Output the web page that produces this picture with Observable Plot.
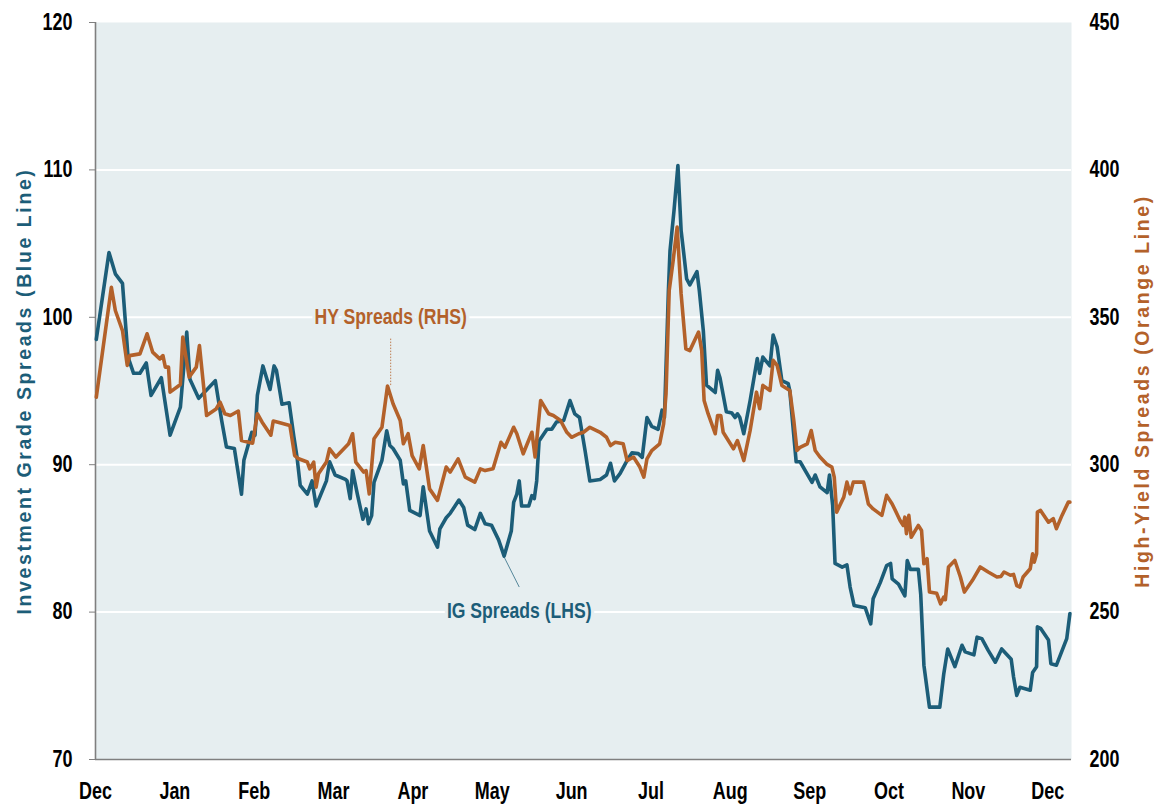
<!DOCTYPE html>
<html>
<head>
<meta charset="utf-8">
<script src="https://cdn.jsdelivr.net/npm/d3@7"></script>
<script src="https://cdn.jsdelivr.net/npm/@observablehq/plot@0.6"></script>
<style>
  html, body { margin: 0; padding: 0; background: #ffffff; }
  #chart { width: 1154px; height: 804px; }
</style>
</head>
<body>
<div id="chart"></div>
<script>
// ---- Data ----
// x positions are in months since the start of the first December
const monthLabels = ["Dec","Jan","Feb","Mar","Apr","May","Jun","Jul","Aug","Sep","Oct","Nov","Dec"];
const monthTicks = [0,1,2,3,4,5,6,7,8,9,10,11,12];
const igTicks = [70,80,90,100,110,120];
const gridTicks = [80,90,100,110];

const igMonth = [0.01,0.17,0.25,0.34,0.41,0.48,0.56,0.64,0.70,0.83,
0.94,1.07,1.15,1.19,1.30,1.51,1.59,1.65,1.75,1.84,
1.87,1.97,2.01,2.04,2.11,2.20,2.25,2.28,2.35,2.44,
2.50,2.54,2.58,2.67,2.73,2.78,2.91,2.95,3.02,3.15,
3.17,3.21,3.24,3.30,3.37,3.41,3.44,3.48,3.51,3.61,
3.67,3.71,3.75,3.84,3.88,3.91,3.96,4.09,4.13,4.21,
4.31,4.34,4.42,4.47,4.58,4.64,4.69,4.78,4.85,4.91,
4.99,5.08,5.15,5.24,5.27,5.31,5.34,5.37,5.46,5.50,
5.53,5.56,5.59,5.69,5.75,5.81,5.90,5.98,6.04,6.10,
6.17,6.23,6.36,6.44,6.49,6.54,6.61,6.70,6.76,6.84,
6.89,6.95,7.01,7.09,7.14,7.17,7.22,7.24,7.29,7.34,
7.38,7.41,7.45,7.49,7.58,7.61,7.66,7.70,7.81,7.84,
7.87,7.95,8.02,8.06,8.09,8.12,8.17,8.25,8.34,8.37,
8.41,8.50,8.54,8.59,8.65,8.73,8.75,8.83,8.88,9.03,
9.07,9.13,9.22,9.25,9.29,9.32,9.41,9.47,9.51,9.56,
9.70,9.77,9.80,9.89,9.97,10.02,10.04,10.12,10.20,10.23,
10.27,10.37,10.40,10.44,10.51,10.64,10.69,10.74,10.83,10.92,
10.96,11.07,11.11,11.17,11.25,11.34,11.42,11.54,11.57,11.61,
11.65,11.78,11.81,11.86,11.87,11.91,12.01,12.04,12.11,12.24,
12.28];

const igValue = [98.5,104.4,102.95,102.3,97.3,96.2,96.2,96.9,94.7,95.9,
92.0,93.9,99.0,95.8,94.5,95.7,93.0,91.2,91.1,88.0,
90.3,92.2,92.0,94.7,96.7,95.1,96.7,96.4,94.1,94.2,
91.9,90.5,88.6,88.0,88.9,87.2,88.9,90.2,89.3,89.0,
88.9,87.7,89.6,88.0,86.3,87.0,86.0,86.55,88.8,90.3,
92.3,91.3,91.1,90.3,88.7,88.9,86.9,86.55,88.5,85.5,
84.4,85.65,86.4,86.7,87.6,87.1,85.9,85.6,86.7,86.0,
85.9,84.9,83.8,85.5,87.45,88.0,88.9,87.2,87.2,87.9,
87.7,88.9,91.6,92.4,92.4,92.9,93.0,94.35,93.45,93.2,
90.95,88.9,89.0,89.3,90.1,88.9,89.4,90.3,90.8,90.75,
90.5,93.2,92.6,92.4,93.7,93.2,101.8,104.5,107.2,110.3,
105.9,104.5,102.6,102.2,103.1,101.8,99.1,95.4,94.9,96.4,
95.9,93.6,93.5,93.2,93.45,93.2,92.1,94.35,97.2,96.2,
97.3,96.7,98.8,98.0,95.7,95.5,95.0,90.2,90.2,88.8,
89.3,88.5,88.1,89.3,87.25,83.3,83.05,83.2,81.7,80.45,
80.3,79.2,80.9,82.0,83.15,83.3,82.25,81.9,81.1,83.5,
82.9,82.9,81.2,76.4,73.55,73.55,75.8,77.5,76.3,77.75,
77.3,77.1,78.3,78.2,77.4,76.6,77.5,76.8,75.6,74.35,
74.9,74.7,75.9,76.3,79.0,78.9,78.1,76.5,76.4,78.2,
79.9];

const hyMonth = [0.01,0.20,0.25,0.34,0.40,0.43,0.56,0.65,0.72,0.81,
0.85,0.88,0.92,0.94,1.07,1.10,1.18,1.27,1.31,1.40,
1.52,1.57,1.63,1.70,1.80,1.84,1.98,2.04,2.10,2.21,
2.24,2.30,2.45,2.51,2.56,2.67,2.70,2.75,2.78,2.81,
2.91,2.95,3.03,3.19,3.24,3.28,3.38,3.41,3.45,3.51,
3.61,3.68,3.75,3.84,3.88,3.94,3.99,4.08,4.13,4.21,
4.31,4.42,4.47,4.57,4.66,4.78,4.85,4.91,5.01,5.11,
5.16,5.27,5.31,5.39,5.50,5.54,5.61,5.71,5.77,5.86,
5.94,6.00,6.09,6.15,6.23,6.36,6.44,6.49,6.55,6.65,
6.70,6.78,6.86,6.91,6.95,7.01,7.11,7.16,7.19,7.23,
7.28,7.33,7.38,7.44,7.49,7.60,7.64,7.67,7.72,7.81,
7.84,7.88,7.91,8.04,8.09,8.17,8.25,8.33,8.37,8.41,
8.50,8.54,8.59,8.65,8.75,8.80,8.84,8.88,8.97,9.02,
9.07,9.13,9.22,9.28,9.31,9.34,9.43,9.47,9.51,9.55,
9.68,9.74,9.80,9.91,9.97,10.04,10.14,10.18,10.20,10.22,
10.25,10.28,10.37,10.41,10.44,10.48,10.51,10.60,10.65,10.69,
10.71,10.75,10.83,10.90,10.95,11.05,11.15,11.25,11.36,11.41,
11.45,11.53,11.57,11.61,11.65,11.69,11.78,11.81,11.83,11.86,
11.87,11.91,12.01,12.07,12.11,12.18,12.26,12.28];

const hyValue = [322.9,360.2,352.3,345.5,333.7,337.0,337.6,344.4,338.2,335.9,
337.0,333.1,333.1,324.6,327.2,343.3,329.7,333.1,340.4,316.7,
318.9,321.2,317.3,316.7,318.2,308.2,307.3,317.3,314.4,310.0,
314.8,314.4,313.3,303.1,302.0,300.9,298.6,300.9,292.4,296.9,
300.9,305.4,302.6,307.1,310.5,300.9,297.5,298.0,290.1,308.8,
312.7,326.7,320.7,315.0,307.1,310.5,303.1,298.6,306.5,291.8,
287.9,299.2,297.5,302.0,295.8,294.1,298.6,298.0,298.6,307.6,
305.9,312.7,310.5,303.7,311.0,302.6,321.8,317.3,316.7,315.0,
311.0,309.3,310.5,311.0,312.7,311.0,309.3,306.5,307.6,307.1,
301.4,302.6,299.2,295.8,302.0,304.8,307.1,313.9,324.0,359.1,
369.3,380.6,358.0,339.3,338.7,345.0,338.7,321.8,317.3,310.5,
316.7,316.7,311.0,305.4,308.2,301.4,311.6,324.6,319.0,326.9,
325.2,335.4,333.7,326.9,325.2,315.0,304.8,305.9,307.1,311.6,
304.8,302.6,300.1,299.2,295.8,283.9,289.0,294.1,290.1,294.1,
294.1,286.7,285.0,282.8,289.6,286.7,281.1,279.4,282.2,276.6,
282.8,275.4,279.4,277.7,266.4,268.1,256.8,256.4,252.8,255.1,
254.2,265.3,267.5,261.9,256.8,260.7,265.3,263.6,261.9,262.1,
263.6,262.5,262.8,259.0,258.5,261.9,264.7,269.8,266.9,269.8,
283.9,284.5,280.5,281.7,278.3,282.8,287.3,287.3];

// Annotations (label anchors in month / IG-scale units)
const noteLabels = ["HY Spreads (RHS)", "IG Spreads (LHS)"];
const noteMonth  = [3.72, 5.34];
const noteValue  = [100, 80.1];
// Leader lines: from the series point to the label
const leaderM1 = [3.72, 5.14];
const leaderV1 = [95.4, 83.84];
const leaderM2 = [3.72, 5.34];
const leaderV2 = [98.6, 81.7];

const leftTitle = "Investment Grade Spreads (Blue Line)";
const rightTitle = "High-Yield Spreads (Orange Line)";

// ---- Styling ----
const BLUE = "#1c5d78";
const ORANGE = "#b3612a";
const BG = "#e6eef0";
const GRAY = "#7f7f7f";
// narrow look: Arial-metric bold, horizontally condensed after layout
const narrowFont = "'Liberation Sans', Arimo, Arial, sans-serif";
const noteFont = "'Liberation Sans', Tinos2, Arial, sans-serif";
const titleFont = "'Liberation Sans', Arial, sans-serif";

// Map the right-hand (HY) scale onto the left-hand (IG) scale: 200..450 -> 70..120
const hyToLeft = v => 70 + (v - 200) / 5;
const leftToHy = d => 200 + (d - 70) * 5;

const igData = igMonth.map((m, i) => ({m, v: igValue[i]}));
const hyData = hyMonth.map((m, i) => ({m, v: hyToLeft(hyValue[i])}));
const notes = noteLabels.map((t, i) => ({t, m: noteMonth[i], v: noteValue[i], i}));
const leaders = leaderM1.map((m, i) => ({m1: m, v1: leaderV1[i], m2: leaderM2[i], v2: leaderV2[i], i}));

const chart = Plot.plot({
  width: 1154,
  height: 804,
  marginLeft: 95,
  marginRight: 83,
  marginTop: 22,
  marginBottom: 45,
  x: {domain: [0, 12.3]},
  y: {domain: [70, 120]},
  style: {background: "#ffffff", fontFamily: titleFont, overflow: "visible"},
  marks: [
    Plot.frame({fill: BG, stroke: "none"}),
    Plot.gridY(gridTicks, {stroke: "#ffffff", strokeOpacity: 1, strokeWidth: 2}),
    Plot.ruleX([0], {stroke: GRAY, strokeWidth: 1.6}),
    Plot.ruleY([70], {stroke: GRAY, strokeWidth: 1.6}),
    Plot.axisY(igTicks, {
      anchor: "left", tickSize: 6, tickPadding: 17, stroke: GRAY, fill: "#000000",
      fontSize: 23, fontWeight: "bold", fontFamily: narrowFont, label: null
    }),
    Plot.axisY(igTicks, {
      anchor: "right", tickSize: 0, tickPadding: 18, fill: "#000000",
      tickFormat: d => String(leftToHy(d)),
      fontSize: 23, fontWeight: "bold", fontFamily: narrowFont, label: null
    }),
    Plot.axisX(monthTicks, {
      anchor: "bottom", tickSize: 0, tickPadding: 23, fill: "#000000",
      tickFormat: d => monthLabels[d],
      fontSize: 23, fontWeight: "bold", fontFamily: narrowFont, label: null
    }),
    Plot.line(igData, {x: "m", y: "v", stroke: BLUE, strokeWidth: 3.6, strokeLinejoin: "round"}),
    Plot.line(hyData, {x: "m", y: "v", stroke: ORANGE, strokeWidth: 3.6, strokeLinejoin: "round"}),
    Plot.link(leaders.filter(d => d.i === 0), {
      x1: "m1", y1: "v1", x2: "m2", y2: "v2",
      stroke: ORANGE, strokeWidth: 1, strokeOpacity: 0.8, strokeDasharray: "1.5,1.5"
    }),
    Plot.link(leaders.filter(d => d.i === 1), {
      x1: "m1", y1: "v1", x2: "m2", y2: "v2",
      stroke: BLUE, strokeWidth: 0.9, strokeOpacity: 0.8
    }),
    Plot.text(notes, {
      x: "m", y: "v", text: "t",
      fill: d => d.i === 0 ? ORANGE : BLUE,
      stroke: BG, strokeWidth: 8,
      fontSize: 22, fontWeight: "bold", fontFamily: noteFont,
      textAnchor: "middle", lineAnchor: "middle"
    }),
    Plot.text([leftTitle], {
      frameAnchor: "left", rotate: -90, dx: -71,
      fill: BLUE, fontSize: 19.5, fontWeight: "bold", fontFamily: titleFont,
      textAnchor: "middle", lineAnchor: "middle"
    }),
    Plot.text([rightTitle], {
      frameAnchor: "right", rotate: -90, dx: 71,
      fill: ORANGE, fontSize: 19.5, fontWeight: "bold", fontFamily: titleFont,
      textAnchor: "middle", lineAnchor: "middle"
    })
  ]
});

document.getElementById("chart").appendChild(chart);

// Axis titles are letter-spaced in the reference
d3.select(chart).selectAll("text")
  .filter(function() { return this.textContent === leftTitle || this.textContent === rightTitle; })
  .style("letter-spacing", "2.6px");

// Tick labels and annotations use a narrow face: condense the Arial-metric bold glyphs
function condense(selector, factor) {
  d3.select(chart).selectAll(selector).each(function() {
    const w = this.getComputedTextLength();
    if (w > 0) {
      this.setAttribute("textLength", (w * factor).toFixed(1));
      this.setAttribute("lengthAdjust", "spacingAndGlyphs");
    }
  });
}
condense("g[font-family*='Arimo'] text", 0.78);
condense("g[font-family*='Tinos2'] text", 0.8);
</script>
</body>
</html>
